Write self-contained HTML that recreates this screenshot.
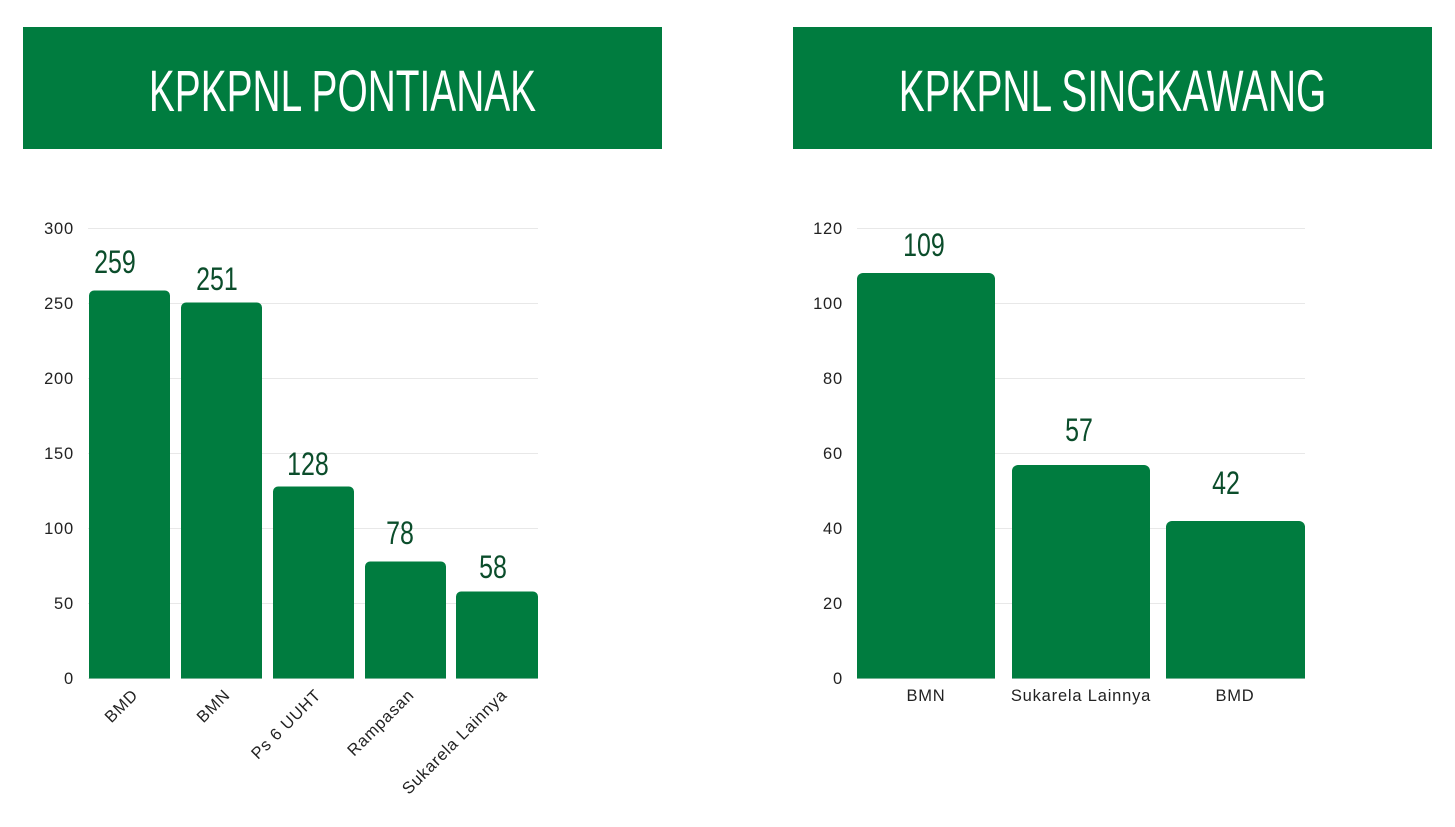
<!DOCTYPE html>
<html><head><meta charset="utf-8"><style>
body{margin:0;background:#fff;}
svg{display:block;}
.t{font-family:"Liberation Sans Narrow","Liberation Sans",sans-serif;}
.ax{font-family:"Liberation Sans",sans-serif;font-size:16.5px;fill:#222;letter-spacing:0.8px;}
.v{font-family:"Liberation Sans Narrow","Liberation Sans",sans-serif;font-size:32px;fill:#0b4d2b;}
</style></head><body>
<svg width="1455" height="827" viewBox="0 0 1455 827">
<rect x="23" y="27" width="639" height="122" fill="#007c3f"/>
<rect x="793" y="27" width="639" height="122" fill="#007c3f"/>
<text x="342.5" y="111" text-anchor="middle" fill="#fff" class="t" font-size="58" transform="translate(342.5 0) scale(0.67 1) translate(-342.5 0)">KPKPNL PONTIANAK</text>
<text x="1112.5" y="111" text-anchor="middle" fill="#fff" class="t" font-size="58" transform="translate(1112.5 0) scale(0.67 1) translate(-1112.5 0)">KPKPNL SINGKAWANG</text>
<g stroke="#e8e8e8" stroke-width="1">
<line x1="88" x2="538" y1="228.5" y2="228.5"/><line x1="88" x2="538" y1="303.5" y2="303.5"/><line x1="88" x2="538" y1="378.5" y2="378.5"/><line x1="88" x2="538" y1="453.5" y2="453.5"/><line x1="88" x2="538" y1="528.5" y2="528.5"/><line x1="88" x2="538" y1="603.5" y2="603.5"/><line x1="88" x2="538" y1="678.5" y2="678.5"/>
<line x1="857" x2="1305" y1="228.5" y2="228.5"/><line x1="857" x2="1305" y1="303.5" y2="303.5"/><line x1="857" x2="1305" y1="378.5" y2="378.5"/><line x1="857" x2="1305" y1="453.5" y2="453.5"/><line x1="857" x2="1305" y1="528.5" y2="528.5"/><line x1="857" x2="1305" y1="603.5" y2="603.5"/><line x1="857" x2="1305" y1="678.5" y2="678.5"/>
</g>
<g class="ax" text-anchor="end">
<text x="74" y="234">300</text><text x="74" y="309">250</text><text x="74" y="384">200</text><text x="74" y="459">150</text><text x="74" y="534">100</text><text x="74" y="609">50</text><text x="74" y="684">0</text>
<text x="843" y="234">120</text><text x="843" y="309">100</text><text x="843" y="384">80</text><text x="843" y="459">60</text><text x="843" y="534">40</text><text x="843" y="609">20</text><text x="843" y="684">0</text>
</g>
<g fill="#007c3f">
<rect x="89" y="290.5" width="81" height="388" rx="5"/>
<rect x="181" y="302.5" width="81" height="376" rx="5"/>
<rect x="273" y="486.5" width="81" height="192" rx="5"/>
<rect x="365" y="561.5" width="81" height="117" rx="5"/>
<rect x="456" y="591.5" width="82" height="87" rx="5"/>
<rect x="857" y="273" width="138" height="405.5" rx="6"/>
<rect x="1012" y="465" width="138" height="213.5" rx="6"/>
<rect x="1166" y="521" width="139" height="157.5" rx="6"/>
<rect x="89" y="670" width="449" height="8.5"/>
<rect x="857" y="670" width="448" height="8.5"/>
</g>
<g fill="#fff"><rect x="170" y="670" width="11" height="9"/><rect x="262" y="670" width="11" height="9"/><rect x="354" y="670" width="11" height="9"/><rect x="446" y="670" width="10" height="9"/><rect x="995" y="670" width="17" height="9"/><rect x="1150" y="670" width="16" height="9"/></g>
<g class="v" text-anchor="middle">
<text x="115" y="273" transform="translate(115 0) scale(0.78 1) translate(-115 0)">259</text>
<text x="217" y="290" transform="translate(217 0) scale(0.78 1) translate(-217 0)">251</text>
<text x="308" y="475" transform="translate(308 0) scale(0.78 1) translate(-308 0)">128</text>
<text x="400" y="544" transform="translate(400 0) scale(0.78 1) translate(-400 0)">78</text>
<text x="493" y="578" transform="translate(493 0) scale(0.78 1) translate(-493 0)">58</text>
<text x="924" y="256" transform="translate(924 0) scale(0.78 1) translate(-924 0)">109</text>
<text x="1079" y="441" transform="translate(1079 0) scale(0.78 1) translate(-1079 0)">57</text>
<text x="1226" y="494" transform="translate(1226 0) scale(0.78 1) translate(-1226 0)">42</text>
</g>
<g class="ax" text-anchor="end">
<text transform="translate(139 696) rotate(-45)">BMD</text>
<text transform="translate(231 696) rotate(-45)">BMN</text>
<text transform="translate(322 696) rotate(-45)">Ps 6 UUHT</text>
<text transform="translate(415 696) rotate(-45)">Rampasan</text>
<text transform="translate(508 696) rotate(-45)">Sukarela Lainnya</text>
</g>
<g class="ax" text-anchor="middle">
<text x="926" y="701">BMN</text>
<text x="1081" y="701">Sukarela Lainnya</text>
<text x="1235" y="701">BMD</text>
</g>
</svg>
</body></html>
